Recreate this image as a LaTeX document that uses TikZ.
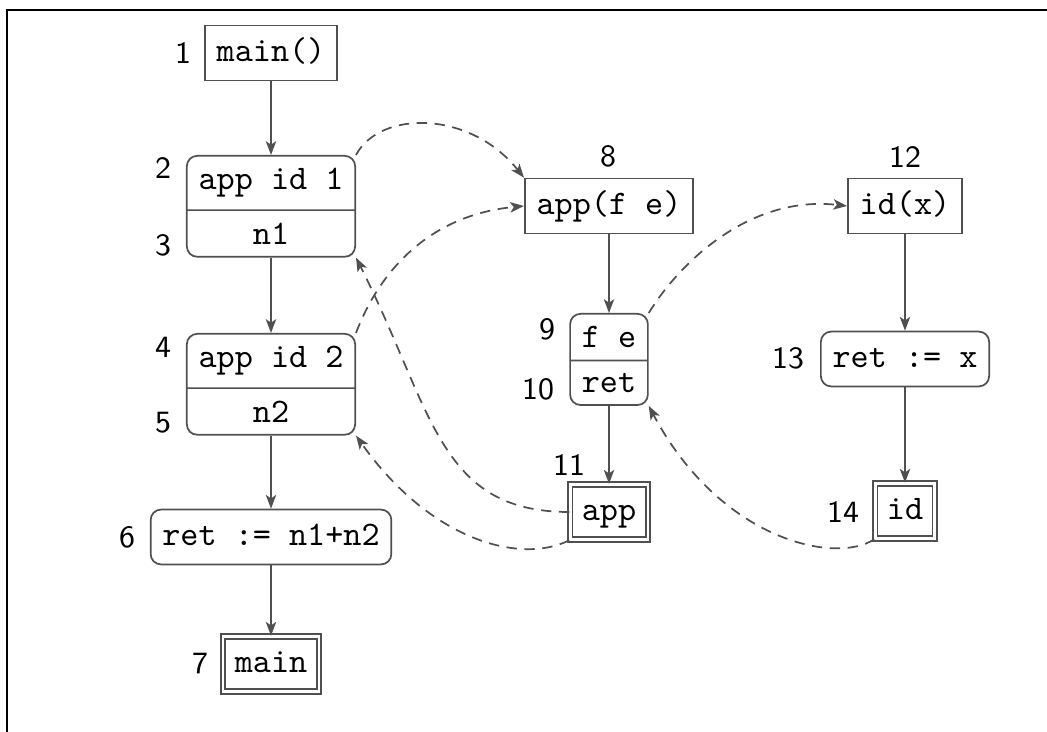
\documentclass[tikz,border=0pt]{standalone}
\usetikzlibrary{shapes.multipart,arrows.meta}
\definecolor{linec}{HTML}{505050}
\begin{document}
\begin{tikzpicture}[x=0.29pt,y=-0.29pt,
  base/.style={draw=linec, line width=0.5pt, font=\ttfamily, inner sep=3.4pt},
  plainbox/.style={base, text height=6.9pt, text depth=2.2pt},
  rbox/.style={plainbox, rounded corners=3pt},
  splitbox/.style={base, rounded corners=3pt, rectangle split, rectangle split parts=2, anchor=north},
  endbox/.style={plainbox, double=white, double distance=0.8pt},
  num/.style={font=\sffamily\small, inner sep=0pt},
  flow/.style={draw=linec, line width=0.5pt, -{Stealth[length=4pt,width=3pt,inset=1pt]}},
  call/.style={flow, dash pattern=on 3pt off 2.2pt}]
\useasboundingbox (0,0) rectangle (1047,732);
\draw[line width=0.6pt] (7,732) -- (7,10) -- (1047,10);

% left column
\node[plainbox] (n1) at (271,53) {main()};
\node[splitbox] (n2) at (271,155) {app id 1\nodepart{two}n1};
\node[splitbox] (n4) at (271,333) {app id 2\nodepart{two}n2};
\node[rbox] (n6) at (271,537) {ret := n1+n2};
\node[endbox] (n7) at (271,664) {main};

% middle column
\node[plainbox] (n8) at (609,206) {app(f e)};
\node[splitbox] (n9) at (609,313) {f e\nodepart{two}ret};
\node[endbox] (n11) at (609,512) {app};

% right column
\node[plainbox] (n12) at (905,206) {id(x)};
\node[rbox] (n13) at (905,359) {ret := x};
\node[endbox] (n14) at (905,511) {id};

% labels
\node[num] (l1) at (183,53) {1};
\node[num] (l2) at (163,168) {2};
\node[num] (l3) at (163,245) {3};
\node[num] (l4) at (163,347) {4};
\node[num] (l5) at (163,423) {5};
\node[num] (l6) at (127,537) {6};
\node[num] (l7) at (200,664) {7};
\node[num] (l8) at (608,156) {8};
\node[num] (l9) at (547,329) {9};
\node[num] (l10) at (538,389) {10};
\node[num] (l11) at (569,465) {11};
\node[num] (l12) at (905,157) {12};
\node[num] (l13) at (788,358) {13};
\node[num] (l14) at (843,512) {14};

% control flow
\draw[flow] (n1) -- (n2);
\draw[flow] (n2) -- (n4);
\draw[flow] (n4) -- (n6);
\draw[flow] (n6) -- (n7);
\draw[flow] (n8) -- (n9);
\draw[flow] (n9) -- (n11);
\draw[flow] (n12) -- (n13);
\draw[flow] (n13) -- (n14);

% calls and returns
\draw[call] (n2.north east) .. controls (380,110) and (470,110) .. (n8.north west);
\draw[call] (n4.north east) .. controls (380,270) and (430,215) .. (n8.west);
\draw[call] (n9.north east) .. controls (680,262) and (750,195) .. (n12.west);
\draw[call] (n11.west) .. controls (438,512) and (433,410) .. (n2.south east);
\draw[call] (n11.south west) .. controls (520,565) and (430,540) .. (n4.south east);
\draw[call] (n14.south west) .. controls (835,565) and (720,540) .. (n9.south east);
\end{tikzpicture}
\end{document}
